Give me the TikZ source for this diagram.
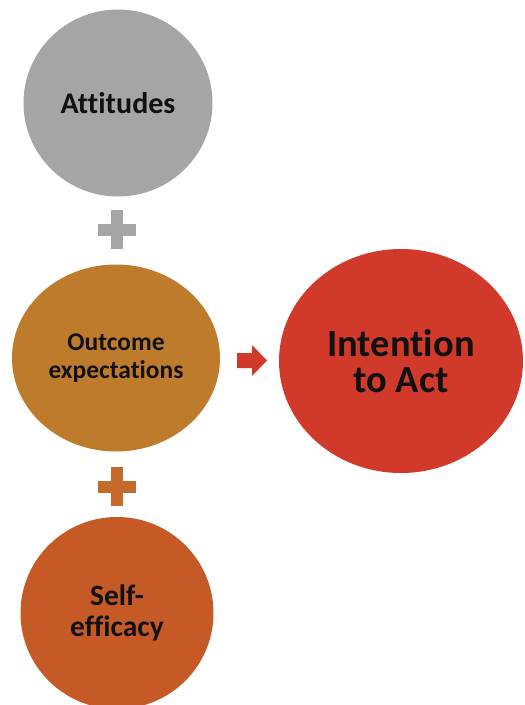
\documentclass[tikz,border=0pt]{standalone}
\usepackage{fontspec}
\setmainfont{Carlito}[Ligatures=NoCommon]
\usetikzlibrary{shapes.geometric}

\definecolor{attgray}{HTML}{A5A5A5}
\definecolor{outochre}{HTML}{BF7B2C}
\definecolor{intred}{HTML}{D13A2B}
\definecolor{selforange}{HTML}{C55A27}
\definecolor{plusorange}{HTML}{C46A2A}
\definecolor{inktext}{HTML}{111111}

\tikzset{
  bubble/.style={ellipse, inner sep=0pt, align=center, text=inktext,
    font=\bfseries},
}

\newcommand{\plussign}[2]{% #1 centre coordinate name, #2 colour
  \fill[#2] ([xshift=-19pt,yshift=-6pt]#1) rectangle ([xshift=19pt,yshift=6pt]#1);
  \fill[#2] ([xshift=-6pt,yshift=-19.5pt]#1) rectangle ([xshift=6pt,yshift=19.5pt]#1);
}

\begin{document}
\begin{tikzpicture}[x=1pt, y=-1pt]
  \useasboundingbox (0,0) rectangle (525,705);

  % the four bubbles
  \node[bubble, fill=attgray, minimum width=189pt, minimum height=187pt,
        font=\bfseries\fontsize{30}{34}\selectfont] (att) at (118,103) {Attitudes};
  \node[bubble, fill=outochre, minimum width=208pt, minimum height=187pt,
        font=\bfseries\fontsize{25.5}{28}\selectfont] (out) at (116,358)
        {Outcome\\expectations};
  \node[bubble, fill=intred, minimum width=244pt, minimum height=224pt,
        font=\bfseries\fontsize{38.5}{36}\selectfont] (int) at (401,361)
        {Intention\\to Act};
  \node[bubble, fill=selforange, minimum width=193pt, minimum height=192pt,
        font=\bfseries\fontsize{29.5}{31}\selectfont] (self) at (117,613)
        {Self-\\efficacy};

  % plus signs between the stacked bubbles
  \coordinate (plusA) at (117,229.5);
  \coordinate (plusB) at (117,486.5);
  \plussign{plusA}{attgray}
  \plussign{plusB}{plusorange}

  % block arrow towards the intention bubble
  \coordinate (arr) at (252,360.5);
  \fill[intred] ([xshift=-15pt,yshift=-7.5pt]arr) -- ([yshift=-7.5pt]arr)
    -- ([yshift=-15.5pt]arr) -- ([xshift=15pt]arr)
    -- ([yshift=15.5pt]arr) -- ([yshift=7.5pt]arr)
    -- ([xshift=-15pt,yshift=7.5pt]arr) -- cycle;
\end{tikzpicture}
\end{document}
